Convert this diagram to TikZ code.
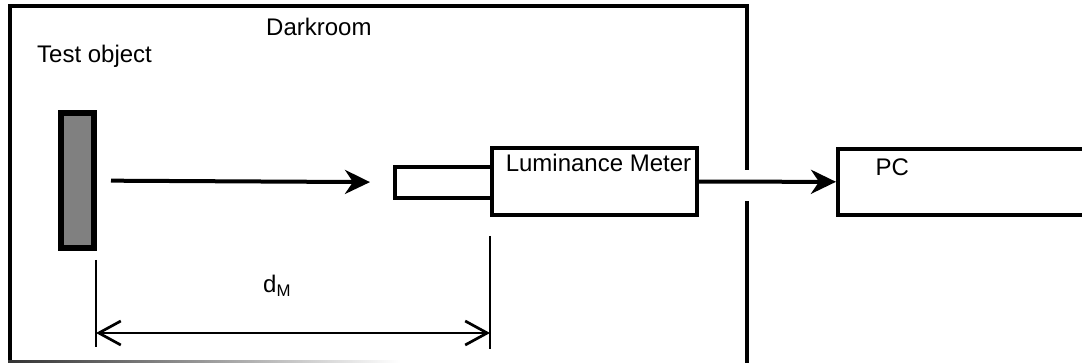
\documentclass[tikz,border=0pt]{standalone}
\usepackage{fontspec}
\setmainfont{Liberation Sans}
\usetikzlibrary{arrows.meta}
\tikzset{
	box/.style      = {draw, line width=4pt, rectangle, inner sep=0pt},
	object/.style   = {draw, line width=6pt, rectangle, fill=black!50, inner sep=0pt,
		minimum width=33pt, minimum height=135pt},
	caption/.style  = {anchor=base west, inner sep=0pt},
	wall/.style     = {line width=4pt},
	flow/.style     = {-{Stealth[length=25pt,width=24pt,inset=8pt]}, line width=4pt},
	dim/.style      = {{Straight Barb[length=22pt,width=24pt]}-{Straight Barb[length=22pt,width=24pt]}, line width=2.7pt}
}

\begin{document}
\begin{tikzpicture}[x=1pt, y=-1pt, font=\fontsize{24}{29}\selectfont]
	\useasboundingbox (0,0) rectangle (1082,363);
	\clip (0,0) rectangle (1082,363);

	% darkroom walls
	\draw[wall] (9.5,363) -- (9.5,6.5) -- (747,6.5) -- (747,170);
	\draw[wall] (747,201) -- (747,363);
	\shade[left color=black!80, right color=white] (8,360.5) rectangle (400,363);

	\draw
	node at (443.5,182.5) [box, minimum width=97pt, minimum height=31pt] (lens) {}
	node at (594.5,181.5) [box, minimum width=205pt, minimum height=67pt,
		label={[anchor=north,xshift=4pt,yshift=-5pt]north:Luminance Meter}] (meter) {}
	node at (77.5,180.5) [object] (test) {}
	node at (968,182) [box, minimum width=260pt, minimum height=66pt,
		label={[anchor=north west,xshift=36pt,yshift=-8pt]north west:PC}] (pc) {};

	\node[caption] (room) at (266,36) {Darkroom};
	\node[caption] (testlabel) at (37,63) {Test object};
	\node[caption] (dist) at (263,293) {d\textsubscript{M}};

	\draw[flow, shorten <=14pt, shorten >=23pt] (test) -- (lens);
	\draw[flow] (meter) -- (pc);

	% measuring distance
	\coordinate (dimL) at (96,333);
	\coordinate (dimR) at (490,333);
	\draw[line width=2.7pt] (96,260) -- (96,347);
	\draw[line width=2.7pt] (490,236) -- (490,349);
	\draw[dim] (dimL) -- (dimR);
\end{tikzpicture}
\end{document}
